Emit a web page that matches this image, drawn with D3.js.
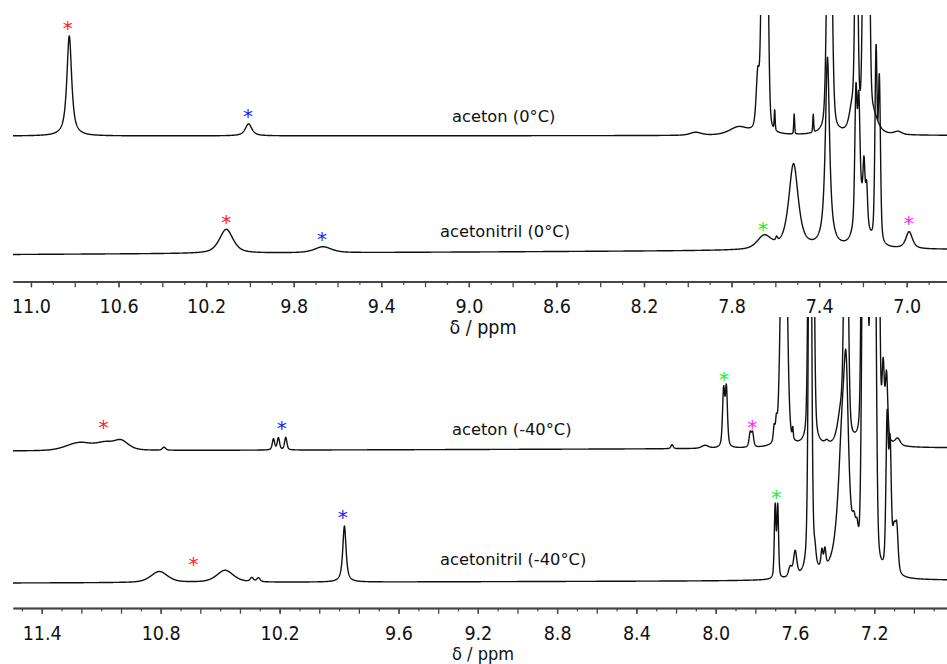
<!DOCTYPE html>
<html>
<head>
<meta charset="utf-8">
<script src="https://cdn.jsdelivr.net/npm/d3@7"></script>
<style>
  body { margin: 0; background: #fff; }
  svg { display: block; }
  .tick text { font-family: "DejaVu Sans Condensed", "DejaVu Sans", sans-serif; font-stretch: condensed; }
</style>
</head>
<body>
<div id="chart"></div>
<script>
// peaks: [ppm, height, half width (ppm), lorentz share]
let acetonPeaks0 = [
    [10.825, 100, 0.013, 0.85], [10.006, 12, 0.018, 0.8], [7.964, 3, 0.03, 0.5],
    [7.767, 8, 0.05, 0.5], [7.680, 55, 0.009, 0.5], [7.658, 250, 0.008, 0.3], [7.639, 250, 0.008, 0.3],
    [7.603, 20, 0.0025, 0.3], [7.514, 20, 0.0025, 0.3], [7.427, 18, 0.0025, 0.3],
    [7.353, 400, 0.011, 0.3], [7.250, 20, 0.015, 0.5], [7.230, 300, 0.007, 0.4],
    [7.196, 250, 0.007, 0.4], [7.175, 300, 0.007, 0.4], [7.152, 15, 0.025, 0.6], [7.040, 3, 0.02, 0.5]
]
let acetonitrilPeaks0 = [
    [10.108, 24, 0.037, 0.6], [9.666, 6, 0.046, 0.6], [7.651, 13, 0.037, 0.5], [7.594, 4, 0.005, 0.5],
    [7.517, 85, 0.026, 0.75], [7.362, 190, 0.0115, 0.9], [7.209, 50, 0.027, 0.6],
    [7.232, 125, 0.006, 0.4], [7.219, 100, 0.006, 0.4], [7.195, 45, 0.005, 0.4], [7.183, 35, 0.005, 0.4],
    [7.140, 190, 0.006, 0.4], [7.125, 160, 0.006, 0.4], [6.989, 17, 0.018, 0.7]
]
let acetonPeaks40 = [
    [11.207, 8, 0.08, 0.3], [11.081, 6, 0.05, 0.3], [11.000, 9.5, 0.045, 0.5], [10.783, 3, 0.01, 0.5],
    [10.231, 11, 0.007, 0.5], [10.206, 12, 0.007, 0.5], [10.169, 12.5, 0.007, 0.5],
    [8.220, 4, 0.007, 0.5], [8.054, 3, 0.02, 0.5], [7.960, 56, 0.0065, 0.5], [7.946, 58, 0.0065, 0.5],
    [7.826, 14, 0.0065, 0.5], [7.814, 14, 0.0065, 0.5], [7.705, 15, 0.005, 0.5], [7.694, 18, 0.005, 0.5],
    [7.656, 400, 0.015, 0.2], [7.611, 11, 0.003, 0.5], [7.526, 400, 0.008, 0.3], [7.511, 400, 0.008, 0.3],
    [7.440, 3, 0.01, 0.5], [7.367, 30, 0.02, 0.5], [7.342, 400, 0.01, 0.3], [7.220, 40, 0.03, 0.5],
    [7.260, 300, 0.007, 0.3], [7.240, 300, 0.007, 0.3], [7.220, 300, 0.007, 0.3], [7.200, 300, 0.007, 0.3],
    [7.179, 300, 0.007, 0.3], [7.155, 70, 0.007, 0.4], [7.138, 65, 0.007, 0.4], [7.082, 7, 0.015, 0.5]
]
let acetonitrilPeaks40 = [
    [10.807, 11, 0.05, 0.5], [10.475, 12, 0.05, 0.5], [10.340, 4, 0.01, 0.5], [10.307, 4, 0.01, 0.5],
    [9.873, 56, 0.01, 0.8], [7.700, 72, 0.005, 0.4], [7.687, 72, 0.005, 0.4], [7.624, 10, 0.01, 0.5],
    [7.599, 25, 0.01, 0.5], [7.524, 600, 0.008, 0.4], [7.499, 12, 0.006, 0.5], [7.464, 18, 0.006, 0.5],
    [7.449, 18, 0.006, 0.5], [7.362, 120, 0.025, 0.9], [7.342, 150, 0.015, 0.9], [7.302, 25, 0.01, 0.5],
    [7.287, 20, 0.0075, 0.5], [7.257, 350, 0.008, 0.4], [7.237, 350, 0.008, 0.4], [7.216, 350, 0.008, 0.4],
    [7.196, 350, 0.008, 0.4], [7.135, 150, 0.007, 0.4], [7.120, 120, 0.007, 0.4], [7.100, 40, 0.01, 0.5],
    [7.086, 40, 0.008, 0.5]
]

// asterisk marks: [ppm, height above baseline, colour]
let acetonStars0 = [[10.832, 111.7, "#ff2020"], [10.009, 24.3, "#2020ff"]]
let acetonitrilStars0 = [[10.108, 35.1, "#ff2020"], [9.671, 17.6, "#2020ff"], [7.656, 25.5, "#20ee20"], [6.991, 30.3, "#ff20ff"]]
let acetonStars40 = [[11.089, 27.4, "#ff2020"], [10.189, 26.1, "#2020ff"], [7.958, 73.7, "#20ee20"], [7.815, 25.3, "#ff20ff"]]
let acetonitrilStars40 = [[10.635, 22.5, "#ff2020"], [9.881, 68.8, "#2020ff"], [7.695, 87.6, "#20ee20"]]

let traceNames = ["aceton (0°C)", "acetonitril (0°C)", "aceton (-40°C)", "acetonitril (-40°C)"]
let topTickLabels = [11.0, 10.6, 10.2, 9.8, 9.4, 9.0, 8.6, 8.2, 7.8, 7.4, 7.0]
let bottomTickLabels = [11.4, 10.8, 10.2, 9.6, 9.2, 8.8, 8.4, 8.0, 7.6, 7.2]
let axisTitle = "δ / ppm"

let width = 947
let height = 664

let svg = d3.select("#chart")
    .append("svg")
    .attr("width", width)
    .attr("height", height)

let panels = [
    {
        x: d3.scaleLinear().domain([11.082, 6.816]).range([13, width]),
        axisY: 281.5, clipTop: 15, ticks: topTickLabels, titleY: 334, titleSize: 19.5,
        traces: [
            { name: traceNames[0], peaks: acetonPeaks0, stars: acetonStars0, base: [136, 135.5], lx: 452, ly: 122 },
            { name: traceNames[1], peaks: acetonitrilPeaks0, stars: acetonitrilStars0, base: [254.5, 249.5], lx: 440, ly: 237 }
        ]
    },
    {
        x: d3.scaleLinear().domain([11.545, 6.833]).range([13, width]),
        axisY: 608, clipTop: 317, ticks: bottomTickLabels, titleY: 659.5, titleSize: 18,
        traces: [
            { name: traceNames[2], peaks: acetonPeaks40, stars: acetonStars40, base: [451, 448], lx: 452, ly: 435 },
            { name: traceNames[3], peaks: acetonitrilPeaks40, stars: acetonitrilStars40, base: [583, 580.5], lx: 440, ly: 565 }
        ]
    }
]

function shape(ppm, peaks) {
    let sum = 0
    peaks.forEach(([p, h, w, eta]) => {
        let t = (ppm - p) / w
        sum += h * (eta / (1 + t * t) + (1 - eta) * Math.exp(-Math.LN2 * t * t))
    })
    return sum
}

panels.forEach((panel, pi) => {
    let x = panel.x
    let g = svg.append("g")

    svg.append("clipPath")
        .attr("id", "clip" + pi)
        .append("rect")
        .attr("x", 0)
        .attr("y", panel.clipTop)
        .attr("width", width)
        .attr("height", panel.axisY - panel.clipTop - 1)

    // axis: minor ticks every 0.1, longer every 0.2, labels where the original put them
    let [d0, d1] = x.domain()
    let tenths = d3.range(Math.ceil(d1 * 10), Math.floor(d0 * 10) + 1)
    let axisG = g.append("g").attr("transform", `translate(0,${panel.axisY})`)
    axisG.append("g")
        .call(d3.axisBottom(x).tickValues(tenths.filter(v => v % 2 !== 0).map(v => v / 10)).tickSize(3.3).tickSizeOuter(0).tickFormat(""))
    axisG.append("g")
        .call(d3.axisBottom(x).tickValues(tenths.filter(v => v % 2 === 0).map(v => v / 10)).tickSize(5.7).tickSizeOuter(0).tickFormat(""))
    axisG.append("g")
        .call(d3.axisBottom(x).tickValues(panel.ticks).tickSize(5.7).tickSizeOuter(0).tickFormat(d3.format(".1f")))
    axisG.selectAll("path.domain").attr("stroke", "#444").attr("stroke-width", 1.4)
    axisG.selectAll(".tick line").attr("stroke", "#444").attr("stroke-width", 1.3)
    axisG.selectAll(".tick text")
        .attr("y", 31.5)
        .attr("dy", null)
        .attr("fill", "#111")
        .style("font-size", "19.5px")

    g.append("text")
        .attr("x", 483)
        .attr("y", panel.titleY)
        .attr("text-anchor", "middle")
        .style("font-family", "'DejaVu Sans Condensed', 'DejaVu Sans', sans-serif")
        .style("font-stretch", "condensed")
        .style("font-size", panel.titleSize + "px")
        .attr("fill", "#111")
        .text(axisTitle)

    panel.traces.forEach(tr => {
        let drift = d3.scaleLinear().domain(x.range()).range([0, tr.base[1] - tr.base[0]])
        let y = d3.scaleLinear().domain([0, 100]).range([tr.base[0], tr.base[0] - 100])
        let samples = d3.range(x.range()[0], x.range()[1] + 0.01, 0.2).map(px => {
            let ppm = x.invert(px)
            return { ppm: ppm, value: shape(ppm, tr.peaks) }
        })
        let line = d3.line()
            .x(d => x(d.ppm))
            .y(d => y(d.value) + drift(x(d.ppm)))

        g.append("path")
            .datum(samples)
            .attr("d", line)
            .attr("clip-path", `url(#clip${pi})`)
            .attr("fill", "none")
            .attr("stroke", "#111")
            .attr("stroke-width", 1.4)
            .attr("stroke-linejoin", "round")

        g.append("text")
            .attr("x", tr.lx)
            .attr("y", tr.ly)
            .style("font-family", "'DejaVu Sans', sans-serif")
            .style("font-size", "16.3px")
            .attr("fill", "#111")
            .text(tr.name)

        g.selectAll(null)
            .data(tr.stars)
            .enter()
            .append("text")
            .attr("x", d => x(d[0]))
            .attr("y", d => y(d[1]) + drift(x(d[0])) + 11)
            .attr("text-anchor", "middle")
            .style("font-family", "'DejaVu Sans', sans-serif")
            .style("font-size", "20px")
            .attr("fill", d => d[2])
            .text("*")
    })
})
</script>
</body>
</html>
